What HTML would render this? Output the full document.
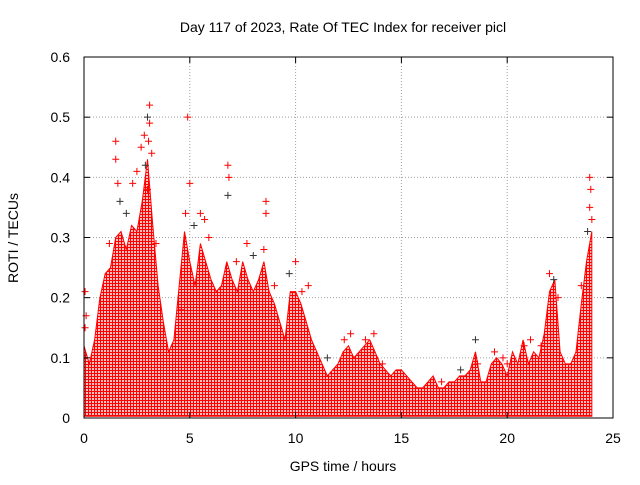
<!DOCTYPE html>
<html><head><meta charset="utf-8"><style>
html,body{margin:0;padding:0;background:#fff;}
svg text{font-family:"Liberation Sans",sans-serif;font-size:14px;fill:#000;}
</style></head><body>
<svg id="chart" width="640" height="480" viewBox="0 0 640 480" xmlns="http://www.w3.org/2000/svg">
<defs>
<pattern id="plusPat" width="3" height="3" patternUnits="userSpaceOnUse">
<rect width="3" height="3" fill="#fff"/>
<path d="M0 1.5H3M1.5 0V3" stroke="#f00" stroke-width="1.3"/>
</pattern>
</defs>
<rect width="640" height="480" fill="#fff"/>
<text x="343" y="32" text-anchor="middle">Day 117 of 2023, Rate Of TEC Index for receiver picl</text>
<text x="343" y="471" text-anchor="middle">GPS time / hours</text>
<text transform="translate(18,238) rotate(-90)" text-anchor="middle">ROTI / TECUs</text>
<g id="grid"></g>
<g id="marks"></g>
<g id="axes"></g>
</svg>
<script>
const xTicks = [0,5,10,15,20,25];
const yTicks = [0,0.1,0.2,0.3,0.4,0.5,0.6];
const yTickLabels = ["0","0.1","0.2","0.3","0.4","0.5","0.6"];
const envHours = [0,0.25,0.5,0.75,1,1.25,1.5,1.75,2,2.25,2.5,2.75,3,3.25,3.5,3.75,4,4.25,4.5,4.75,5,5.25,5.5,5.75,6,6.25,6.5,6.75,7,7.25,7.5,7.75,8,8.25,8.5,8.75,9,9.25,9.5,9.75,10,10.25,10.5,10.75,11,11.25,11.5,11.75,12,12.25,12.5,12.75,13,13.25,13.5,13.75,14,14.25,14.5,14.75,15,15.25,15.5,15.75,16,16.25,16.5,16.75,17,17.25,17.5,17.75,18,18.25,18.5,18.75,19,19.25,19.5,19.75,20,20.25,20.5,20.75,21,21.25,21.5,21.75,22,22.25,22.5,22.75,23,23.25,23.5,23.75,24];
const envRoti = [0.12,0.09,0.13,0.2,0.24,0.25,0.3,0.31,0.28,0.32,0.31,0.36,0.43,0.32,0.22,0.16,0.11,0.13,0.22,0.31,0.26,0.22,0.29,0.26,0.23,0.21,0.22,0.26,0.23,0.21,0.26,0.23,0.21,0.23,0.26,0.21,0.19,0.16,0.13,0.21,0.21,0.19,0.16,0.13,0.11,0.09,0.07,0.08,0.09,0.11,0.12,0.1,0.11,0.12,0.13,0.11,0.09,0.08,0.07,0.08,0.08,0.07,0.06,0.05,0.05,0.06,0.07,0.05,0.05,0.06,0.06,0.07,0.07,0.08,0.11,0.06,0.06,0.09,0.1,0.09,0.07,0.11,0.09,0.13,0.09,0.11,0.1,0.14,0.21,0.23,0.11,0.09,0.09,0.11,0.19,0.26,0.31];
const ptHours = [1.5,1.5,1.6,1.7,2.3,2.5,2.7,2.85,3.0,3.1,3.1,3.05,3.2,2.9,3.0,4.9,5.0,4.8,5.2,5.5,5.7,6.8,6.85,6.8,8.6,8.6,8.5,7.7,9.7,10.0,10.6,12.6,13.7,18.5,18.6,19.8,21.1,22.0,22.2,22.4,23.9,23.95,23.9,23.8,24.0,0.05,0.1,0.05,11.5,14.1,16.9,20.0,1.2,2.0,3.4,4.6,5.9,7.2,8.0,9.0,10.3,12.3,13.3,17.8,19.4,20.8,21.6,23.5];
const ptRoti = [0.46,0.43,0.39,0.36,0.39,0.41,0.45,0.47,0.5,0.52,0.49,0.46,0.44,0.42,0.38,0.5,0.39,0.34,0.32,0.34,0.33,0.42,0.4,0.37,0.36,0.34,0.28,0.29,0.24,0.26,0.22,0.14,0.14,0.13,0.09,0.1,0.13,0.24,0.23,0.2,0.4,0.38,0.35,0.31,0.33,0.21,0.17,0.15,0.1,0.09,0.06,0.09,0.29,0.34,0.29,0.18,0.3,0.26,0.27,0.22,0.21,0.13,0.13,0.08,0.11,0.12,0.12,0.22];

const X0=84, X1=613, Y0=418, Y1=57;
const xs = v => X0 + (v-0)/(25-0)*(X1-X0);
const ys = v => Y0 - (v-0)/(0.6-0)*(Y0-Y1);
const NS="http://www.w3.org/2000/svg";
function mk(tag, attrs, parent){const e=document.createElementNS(NS,tag);for(const k in attrs)e.setAttribute(k,attrs[k]);parent.appendChild(e);return e;}
const grid=document.getElementById('grid'), marks=document.getElementById('marks'), axes=document.getElementById('axes');

xTicks.forEach((t,i)=>{
  const x=xs(t);
  if(t>0&&t<25){const g=mk('line',{x1:x,y1:Y0,x2:x,y2:Y1,stroke:'#a0a0a0','stroke-dasharray':'1,2'},grid);
  
  }
  mk('line',{x1:x,y1:Y0,x2:x,y2:Y0-6,stroke:'#000'},axes);
  mk('line',{x1:x,y1:Y1,x2:x,y2:Y1+6,stroke:'#000'},axes);
  const tx=mk('text',{x:x,y:443,'text-anchor':'middle'},axes);tx.textContent=String(t);
  
  
});
yTicks.forEach((t,i)=>{
  const y=ys(t);
  if(t>0&&t<0.6){const g=mk('line',{x1:X0,y1:y,x2:X1,y2:y,stroke:'#a0a0a0','stroke-dasharray':'1,2'},grid);
  
  }
  mk('line',{x1:X0,y1:y,x2:X0+6,y2:y,stroke:'#000'},axes);
  mk('line',{x1:X1,y1:y,x2:X1-6,y2:y,stroke:'#000'},axes);
  const tx=mk('text',{x:70,y:y+5,'text-anchor':'end'},axes);tx.textContent=yTickLabels[i];
  
  
});
mk('rect',{x:X0,y:Y1,width:X1-X0,height:Y0-Y1,fill:'none',stroke:'#000'},axes);

let d='M'+xs(envHours[0])+' '+ys(0.003);
envHours.forEach((h,i)=>{d+=' L'+xs(h).toFixed(1)+' '+ys(envRoti[i]).toFixed(1);});
d+=' L'+xs(envHours[envHours.length-1])+' '+ys(0.003)+' Z';
const area=mk('path',{d:d,fill:'url(#plusPat)',stroke:'#f00','stroke-width':1},marks);



ptHours.forEach((h,i)=>{
  const x=xs(h), y=ys(ptRoti[i]);
  const p=mk('path',{d:`M${x-3.5} ${y}H${x+3.5}M${x} ${y-3.5}V${y+3.5}`,stroke:(i%5==3)?'#333':'#f00','stroke-width':1},marks);
  
  
});
</script>
</body></html>
